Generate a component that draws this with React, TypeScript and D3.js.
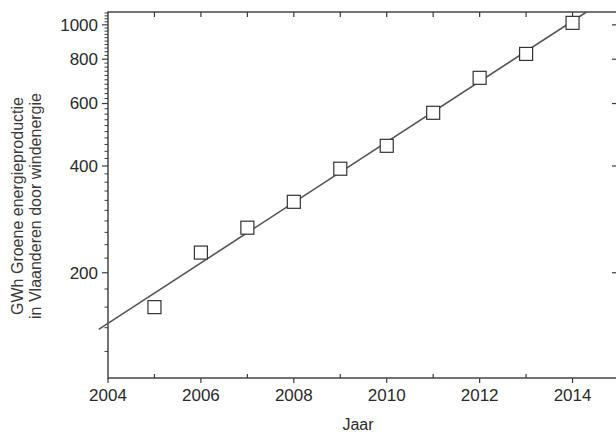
import React from 'react';
import * as d3 from 'd3';

// GWh wind energy production in Flanders
const years = [2005, 2006, 2007, 2008, 2009, 2010, 2011, 2012, 2013, 2014];
const gwh = [160, 228, 268, 317, 393, 456, 565, 709, 828, 1013];

const xMajorTicks = [2004, 2006, 2008, 2010, 2012, 2014];
const xAllTicks = [2005, 2006, 2007, 2008, 2009, 2010, 2011, 2012, 2013, 2014];
const yMajorTicks = [200, 400, 600, 800, 1000];
const yMinorTicks = [120, 140, 160, 180, 220, 240, 260, 280, 300, 320, 340, 360, 380,
  420, 440, 460, 480, 500, 520, 540, 560, 580, 620, 640, 660, 680, 700, 720, 740, 760, 780,
  820, 840, 860, 880, 900, 920, 940, 960, 980, 1020, 1040, 1060, 1080];

const W = 616;
const H = 438;
const left = 108, right = 619, top = 12, bottom = 378;
const axisColor = '#3a3a3a';
const font = 'Liberation Sans, Arial, sans-serif';

export default function App() {
  const x = d3.scaleLinear().domain([2004, 2015]).range([left, right]);
  const y = d3.scaleLog().domain([101, 1087]).range([bottom, top]);

  // exponential fit (least squares on log10 values)
  const logs = gwh.map(v => Math.log10(v));
  const mx = d3.mean(years)!;
  const my = d3.mean(logs)!;
  const slope = d3.sum(years, (yr, i) => (yr - mx) * (logs[i] - my)) / d3.sum(years, yr => (yr - mx) ** 2);
  const icpt = my - slope * mx;
  const fitAt = (yr: number) => Math.pow(10, icpt + slope * yr);
  const yrTop = (Math.log10(1087) - icpt) / slope;
  const fitYears = [2003.8, yrTop];
  const line = d3.line<number>().x(d => x(d)).y(d => y(fitAt(d)));

  const sq = 13;

  return (
    <svg width={W} height={H} style={{ position: 'absolute', left: 0, top: 0, background: '#fff' }}>
      <defs>
        <clipPath id="plot">
          <rect x={left - 14} y={top} width={right - left + 14} height={bottom - top} />
        </clipPath>
      </defs>

      {/* frame */}
      <rect x={left} y={top} width={right - left} height={bottom - top}
        fill="none" stroke={axisColor} strokeWidth={1.4} />

      {/* left axis ticks */}
      {yMajorTicks.map(t => (
        <g key={'ym' + t}>
          <line x1={left - 6} x2={left} y1={y(t)} y2={y(t)} stroke={axisColor} strokeWidth={1.2} />
          <text x={left - 10} y={y(t)} dy="0.35em" textAnchor="end" fontSize={17}
            fontFamily={font} fill="#2a2a2a">{t}</text>
          <line x1={right - 7} x2={right} y1={y(t)} y2={y(t)} stroke={axisColor} strokeWidth={1.2} />
        </g>
      ))}
      {yMinorTicks.map(t => (
        <line key={'yn' + t} x1={left - 3.5} x2={left} y1={y(t)} y2={y(t)} stroke={axisColor} strokeWidth={1} />
      ))}

      {/* bottom and top axis ticks */}
      {xMajorTicks.map(t => (
        <g key={'xm' + t}>
          <line x1={x(t)} x2={x(t)} y1={bottom} y2={bottom + 5} stroke={axisColor} strokeWidth={1.2} />
          <text x={x(t)} y={bottom + 23} textAnchor="middle" fontSize={17}
            fontFamily={font} fill="#2a2a2a">{t}</text>
        </g>
      ))}
      {xAllTicks.map(t => (
        <g key={'xt' + t}>
          <line x1={x(t)} x2={x(t)} y1={top} y2={top + 5} stroke={axisColor} strokeWidth={1.2} />
          {t % 2 === 1 && (
            <line x1={x(t)} x2={x(t)} y1={bottom - 4} y2={bottom} stroke={axisColor} strokeWidth={1.2} />
          )}
        </g>
      ))}

      {/* fit line */}
      <path d={line(fitYears) || ''} fill="none" stroke="#555" strokeWidth={1.6} clipPath="url(#plot)" />

      {/* data squares */}
      {years.map((yr, i) => (
        <rect key={yr} x={x(yr) - sq / 2} y={y(gwh[i]) - sq / 2} width={sq} height={sq}
          fill="#fff" stroke="#333" strokeWidth={1.2} />
      ))}

      {/* axis titles */}
      <text x={358} y={430} textAnchor="middle" fontSize={16} fontFamily={font} fill="#2a2a2a">Jaar</text>
      <g transform={`translate(23, 206) rotate(-90)`}>
        <text x={0} y={0} textAnchor="middle" fontSize={16} fontFamily={font} fill="#3a3a3a">GWh Groene energieproductie</text>
        <text x={0} y={18} textAnchor="middle" fontSize={16} fontFamily={font} fill="#3a3a3a">in Vlaanderen door windenergie</text>
      </g>
    </svg>
  );
}
